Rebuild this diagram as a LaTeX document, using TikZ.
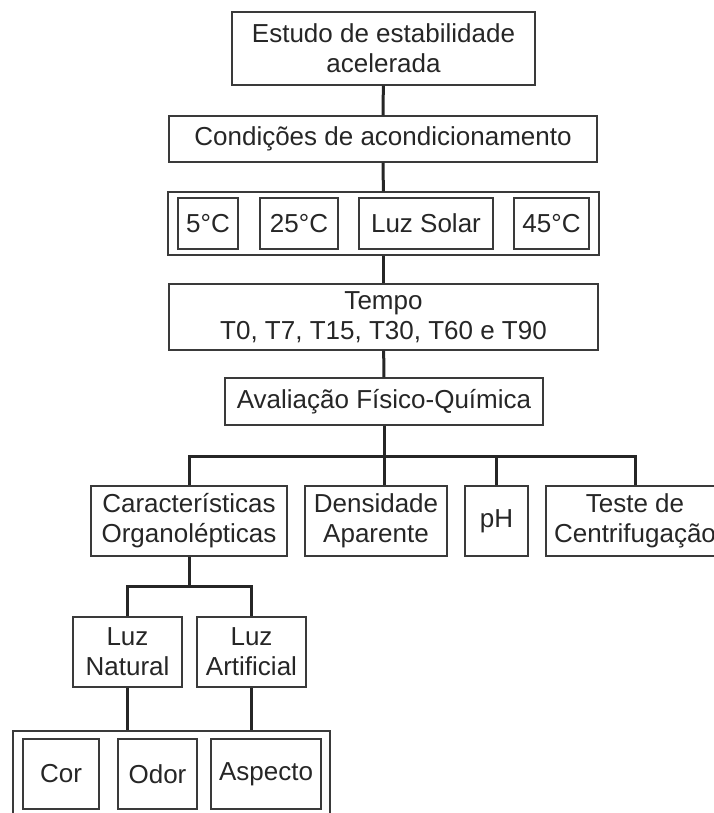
\documentclass[tikz,border=0pt]{standalone}
\usepackage{fontspec}
\setmainfont{Liberation Sans}
\usepackage{xcolor}
\definecolor{textgray}{HTML}{262626}
\definecolor{boxgray}{HTML}{3A3A3A}
\usepackage{tikz}
\usetikzlibrary{positioning,calc}

\begin{document}
\begin{tikzpicture}[x=1pt,y=-1pt,
  box/.style={draw=boxgray,line width=1.4pt,inner sep=0pt,align=center,text=textgray,
    font=\fontsize{26}{30}\selectfont},
  conn/.style={line width=3pt,draw=black!85}]
\useasboundingbox (0,0) rectangle (714,813);
\clip (0,0) rectangle (714,813);
\node[box,minimum width=303pt,minimum height=73pt] (est) at (383.5,48.5) {Estudo de estabilidade\\acelerada};
\node[box,minimum width=428pt,minimum height=46pt] (cond) at (383,139) {Condições de acondicionamento};
\node[box,minimum width=431pt,minimum height=63pt] (temps) at (383.5,223.5) {};
\node[box,minimum width=60pt,minimum height=51pt] (t5) at (208,223.5) {5°C};
\node[box,minimum width=78pt,minimum height=51pt] (t25) at (299,223.5) {25°C};
\node[box,minimum width=134pt,minimum height=51pt] (sol) at (426,223.5) {Luz Solar};
\node[box,minimum width=75pt,minimum height=51pt] (t45) at (551.5,223.5) {45°C};
\node[box,minimum width=429pt,minimum height=66pt] (tempo) at (383.5,317) {Tempo\\T0, T7, T15, T30, T60 e T90};
\node[box,minimum width=318pt,minimum height=47pt] (aval) at (384,401.5) {Avaliação Físico-Química};
\coordinate (bar) at (384,456);
\node[box,minimum width=196pt,minimum height=70pt] (caract) at (189,521) {Características\\Organolépticas};
\node[box,minimum width=142pt,minimum height=70pt] (dens) at (376,521) {Densidade\\Aparente};
\node[box,minimum width=63pt,minimum height=70pt] (ph) at (496.5,521) {pH};
\node[box,minimum width=178pt,minimum height=70pt] (teste) at (635,521) {Teste de\\Centrifugação};
\coordinate (bar2) at (189,586);
\node[box,minimum width=109pt,minimum height=70pt] (nat) at (127.5,652) {Luz\\Natural};
\node[box,minimum width=109pt,minimum height=70pt] (art) at (251.5,652) {Luz\\Artificial};
\node[box,minimum width=317pt,minimum height=110pt] (props) at (171.5,786) {};
\node[box,minimum width=76pt,minimum height=70pt] (cor) at (61,774) {Cor};
\node[box,minimum width=79pt,minimum height=70pt] (odor) at (157.5,774) {Odor};
\node[box,minimum width=110pt,minimum height=70pt] (asp) at (266,774) {Aspecto};
% ligacoes
\draw[conn] (est) -- (cond);
\draw[conn] (cond) -- (temps);
\draw[conn] (temps) -- (tempo);
\draw[conn] (tempo) -- (aval);
\draw[conn] (aval.south) -- (aval.south |- dens.north);
\draw[conn] (caract.north) -- (caract.north |- bar) -- (teste.north |- bar) -- (teste.north);
\draw[conn] (ph.north |- bar) -- (ph.north);
\draw[conn] (caract.south) -- (bar2);
\draw[conn] (nat.north) -- (nat.north |- bar2) -- (art.north |- bar2) -- (art.north);
\draw[conn] (nat.south) -- (nat.south |- props.north);
\draw[conn] (art.south) -- (art.south |- props.north);
\end{tikzpicture}
\end{document}
